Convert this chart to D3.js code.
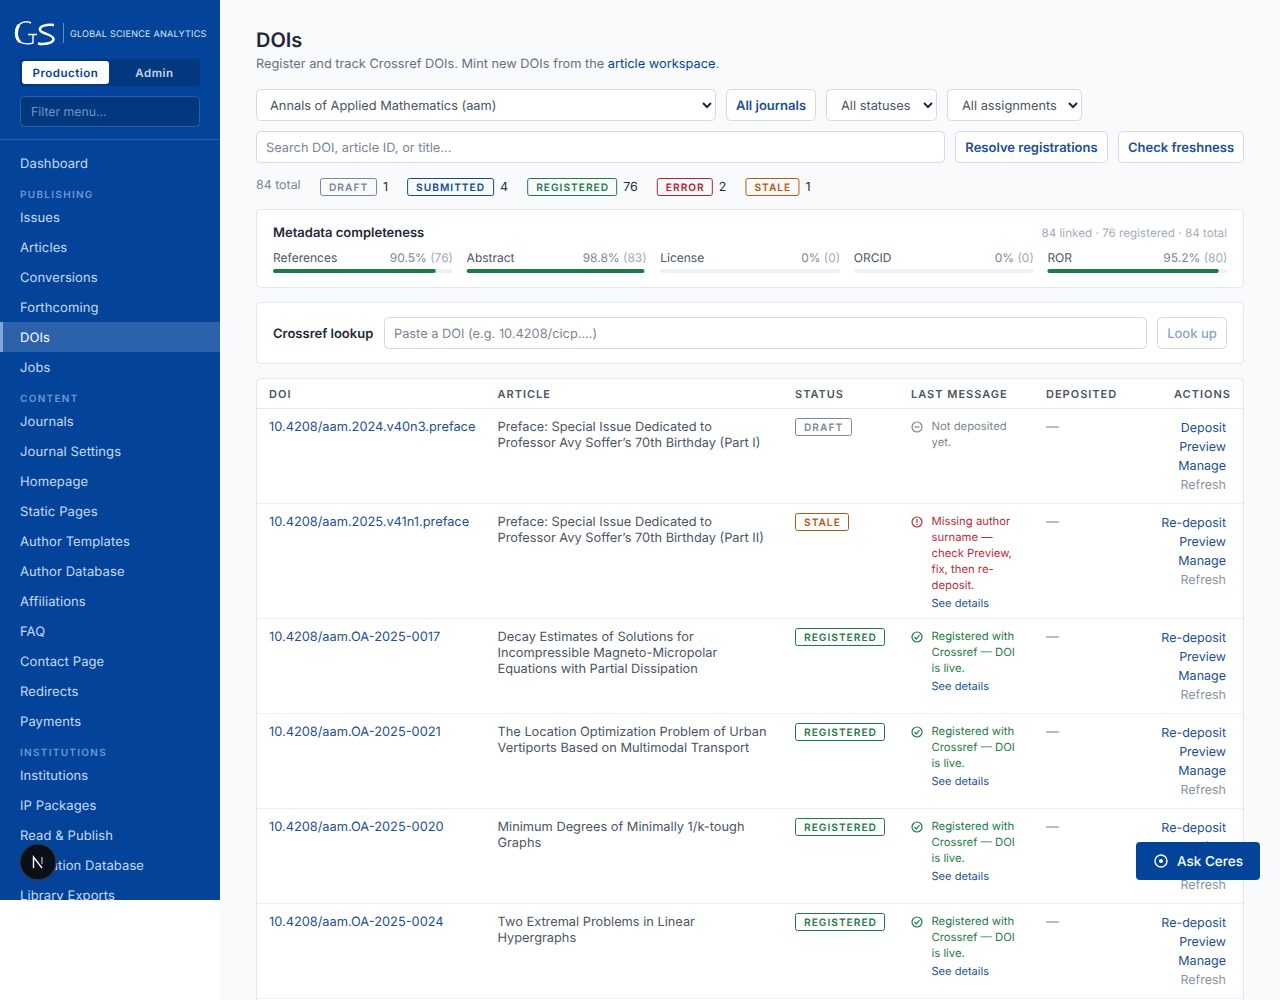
<!DOCTYPE html>
<html>
<head>
<meta charset="utf-8">
<title>DOIs</title>
<script src="https://cdn.jsdelivr.net/npm/d3@7"></script>
<style>
  html, body { margin: 0; padding: 0; background: #fff; overflow: hidden; }
  svg { display: block; font-family: Inter, "Noto Sans", sans-serif; text-rendering: geometricPrecision; }
</style>
</head>
<body>
<div id="app"></div>
<script>
// sidebar
const navTop = ["Dashboard"];
const navPublishing = ["Issues", "Articles", "Conversions", "Forthcoming", "DOIs", "Jobs"];
const navContent = ["Journals", "Journal Settings", "Homepage", "Static Pages", "Author Templates", "Author Database", "Affiliations", "FAQ", "Contact Page", "Redirects", "Payments"];
const navInstitutions = ["Institutions", "IP Packages", "Read & Publish", "Institution Database", "Library Exports"];

// summary counts
const statusNames = ["DRAFT", "SUBMITTED", "REGISTERED", "ERROR", "STALE"];
const statusCounts = [1, 4, 76, 2, 1];

// metadata completeness
const metricNames = ["References", "Abstract", "License", "ORCID", "ROR"];
const metricPercents = [90.5, 98.8, 0, 0, 95.2];
const metricCounts = [76, 83, 0, 0, 80];

// table
const tableHeaders = ["DOI", "ARTICLE", "STATUS", "LAST MESSAGE", "DEPOSITED", "ACTIONS"];
const rowDois = ["10.4208/aam.2024.v40n3.preface", "10.4208/aam.2025.v41n1.preface", "10.4208/aam.OA-2025-0017", "10.4208/aam.OA-2025-0021", "10.4208/aam.OA-2025-0020", "10.4208/aam.OA-2025-0024"];
const rowTitles = [
  ["Preface: Special Issue Dedicated to", "Professor Avy Soffer\u2019s 70th Birthday (Part I)"],
  ["Preface: Special Issue Dedicated to", "Professor Avy Soffer\u2019s 70th Birthday (Part II)"],
  ["Decay Estimates of Solutions for", "Incompressible Magneto-Micropolar", "Equations with Partial Dissipation"],
  ["The Location Optimization Problem of Urban", "Vertiports Based on Multimodal Transport"],
  ["Minimum Degrees of Minimally 1/k-tough", "Graphs"],
  ["Two Extremal Problems in Linear", "Hypergraphs"]
];
const rowStatuses = ["DRAFT", "STALE", "REGISTERED", "REGISTERED", "REGISTERED", "REGISTERED"];
const liveMessage = ["Registered with", "Crossref \u2014 DOI", "is live."];
const rowMessages = [
  ["Not deposited", "yet."],
  ["Missing author", "surname \u2014", "check Preview,", "fix, then re-", "deposit."],
  liveMessage, liveMessage, liveMessage, liveMessage
];
const rowDetails = [false, true, true, true, true, true];
const rowDeposited = ["\u2014", "\u2014", "\u2014", "\u2014", "\u2014", "\u2014"];
const rowFirstAction = ["Deposit", "Re-deposit", "Re-deposit", "Re-deposit", "Re-deposit", "Re-deposit"];

const BLUE = "#03449a", LINK = "#234f8f", INK = "#4b5563";
const statusColors = { DRAFT: "#7b8794", SUBMITTED: "#114a92", REGISTERED: "#1f7a4a", ERROR: "#b4202f", STALE: "#b45a12" };
const msgColors = { DRAFT: "#7b8794", STALE: "#b4303c", REGISTERED: "#1f7a4a" };

const svg = d3.select("#app").append("svg").attr("width", 1280).attr("height", 1000);

const label = (g, x, y, str, opts = {}) =>
  g.append("text")
    .attr("x", x).attr("y", y)
    .attr("font-size", opts.size || 13)
    .attr("font-weight", opts.weight || 400)
    .attr("fill", opts.fill || INK)
    .attr("text-anchor", opts.anchor || "start")
    .attr("letter-spacing", opts.spacing || 0)
    .text(str);

const box = (g, x, y, w, h, opts = {}) =>
  g.append("rect")
    .attr("x", x + 0.5).attr("y", y + 0.5)
    .attr("width", w - 1).attr("height", h - 1)
    .attr("rx", opts.r === undefined ? 4 : opts.r)
    .attr("fill", opts.fill || "#fff")
    .attr("stroke", opts.stroke || "#d5dbe3");

const chevron = (g, x, y) =>
  g.append("path")
    .attr("d", `M${x - 4},${y - 2}L${x},${y + 2}L${x + 4},${y - 2}`)
    .attr("fill", "none").attr("stroke", "#1f2937").attr("stroke-width", 2);

const badge = (g, x, y, name) => {
  const color = statusColors[name];
  const r = box(g, x, y, 40, 18, { r: 2, stroke: color, fill: "none" });
  const t = label(g, x + 9, y + 12.5, name, { size: 10.2, weight: 600, fill: color, spacing: 1 });
  const w = Math.round(t.node().getComputedTextLength() + 17.5);
  r.attr("width", w - 1);
  return w;
};

// ---- page background
svg.append("rect").attr("x", 220).attr("width", 1060).attr("height", 1000).attr("fill", "#f8fafc");

// ---- sidebar
const side = svg.append("g");
const clip = svg.append("clipPath").attr("id", "sideClip");
clip.append("rect").attr("width", 220).attr("height", 900);
side.attr("clip-path", "url(#sideClip)");
side.append("rect").attr("width", 220).attr("height", 900).attr("fill", BLUE);

// logo
const logo = side.append("g").attr("fill", "none").attr("stroke", "#fff");
logo.append("path").attr("stroke-width", 1.4)
  .attr("d", "M31,23C24,19.5 16,24 15.5,33C15.5,41 22,45 31,43.5L33,43V35M28,34.5L37,34.5");
logo.append("path").attr("stroke-width", 3)
  .attr("d", "M19,25C15.5,29 15.5,38 20,42");
logo.append("path").attr("stroke-width", 2.6)
  .attr("d", "M54,25C47,24 39,26 40,30C41,34 53,34 53.5,39C53.5,43 45,45 38,43.5");
side.append("rect").attr("x", 63).attr("y", 23).attr("width", 1).attr("height", 20).attr("fill", "#5f8ac4");
label(side, 70, 36.5, "GLOBAL SCIENCE ANALYTICS", { size: 9.1, fill: "#dbe6f6", spacing: 0.2 });

// environment toggle
side.append("rect").attr("x", 20).attr("y", 59).attr("width", 180).attr("height", 27).attr("rx", 3).attr("fill", "#03387f");
side.append("rect").attr("x", 22).attr("y", 61).attr("width", 87).attr("height", 23).attr("rx", 3).attr("fill", "#fff");
label(side, 65.5, 77, "Production", { size: 11.5, weight: 600, fill: BLUE, anchor: "middle", spacing: 0.5 });
label(side, 154.5, 77, "Admin", { size: 11.5, weight: 600, fill: "#c3d5f0", anchor: "middle", spacing: 0.5 });

// filter
box(side, 20, 96, 180, 31, { fill: "#03387f", stroke: "#2a5ea8" });
label(side, 31, 116, "Filter menu...", { size: 12.3, fill: "#6f94c9" });
side.append("rect").attr("y", 139).attr("width", 220).attr("height", 1).attr("fill", "#2a5ea8");

// nav items, each section laid out after the one above it
side.append("rect").attr("y", 322).attr("width", 220).attr("height", 30).attr("fill", "#2b62ab");
side.append("rect").attr("y", 322).attr("width", 3).attr("height", 30).attr("fill", "#7fa6dc");
let navY = 163;
const navSections = [[null, navTop], ["PUBLISHING", navPublishing], ["CONTENT", navContent], ["INSTITUTIONS", navInstitutions]];
navSections.forEach(([title, items]) => {
  if (title) {
    label(side, 20, navY + 4, title, { size: 10, weight: 600, fill: "#6f98d2", spacing: 1.3 });
    navY += 23;
  }
  items.forEach((name, i) => {
    label(side, 20, navY + 5, name, { size: 13, fill: name === "DOIs" ? "#fff" : "#c9daf3", spacing: 0.1 });
    navY += i === items.length - 1 ? 1 : 30;
  });
  navY += 30;
});

// ---- heading
const main = svg.append("g");
label(main, 256, 47, "DOIs", { size: 20, weight: 600, fill: "#1f2937" });
const sub = label(main, 256, 68, "", { size: 12.8, fill: "#667180" });
sub.append("tspan").text("Register and track Crossref DOIs. Mint new DOIs from the ");
sub.append("tspan").attr("fill", BLUE).text("article workspace");
sub.append("tspan").text(".");

// ---- filters
box(main, 256, 89, 460, 32);
label(main, 270, 110, "Annals of Applied Mathematics (aam)", { size: 12.8 });
chevron(main, 707, 105);
box(main, 726, 89, 90, 32);
label(main, 771, 110, "All journals", { size: 13, weight: 600, fill: LINK, anchor: "middle" });
box(main, 826, 89, 111, 32);
label(main, 841, 110, "All statuses", { size: 12.8 });
chevron(main, 928, 105);
box(main, 947, 89, 135, 32);
label(main, 962, 110, "All assignments", { size: 12.8 });
chevron(main, 1073, 105);

box(main, 256, 131, 689, 32);
label(main, 266, 152, "Search DOI, article ID, or title...", { size: 12.8, fill: "#7b8594" });
box(main, 955, 131, 153, 32);
label(main, 1031.5, 152, "Resolve registrations", { size: 13, weight: 600, fill: LINK, anchor: "middle" });
box(main, 1118, 131, 126, 32);
label(main, 1181, 152, "Check freshness", { size: 13, weight: 600, fill: LINK, anchor: "middle" });

// ---- status summary
label(main, 256, 189, "84 total", { size: 12.4, fill: "#7b8794" });
let sumX = 320;
statusNames.forEach((name, i) => {
  const w = badge(main, sumX, 178, name);
  sumX += w;
  const c = label(main, sumX + 6, 191, statusCounts[i], { size: 12.5, fill: "#1f2937" });
  sumX += 6 + c.node().getComputedTextLength() + 19;
});

// ---- metadata completeness
box(main, 256, 209, 988, 79, { stroke: "#e2e8f0" });
label(main, 273, 237, "Metadata completeness", { size: 13, weight: 600, fill: "#1f2937" });
label(main, 1227, 237, "84 linked \u00b7 76 registered \u00b7 84 total", { size: 11.7, fill: "#a3acb8", anchor: "end" });

const metricX = d3.scaleBand().domain(metricNames).range([273, 1227 + 14]).paddingInner(0);
const metricW = d3.scaleLinear().domain([0, 100]).range([0, 180]);
const metrics = main.selectAll("g.metric").data(metricNames).join("g")
  .attr("class", "metric")
  .attr("transform", d => `translate(${metricX(d)},0)`);
metrics.append("text").attr("y", 262).attr("font-size", 12).attr("fill", INK).text(d => d);
metrics.each(function (d, i) {
  const g = d3.select(this);
  const t = label(g, 180, 262, "", { size: 12, fill: "#7b8794", anchor: "end" });
  t.append("tspan").text(`${metricPercents[i]}% `);
  t.append("tspan").attr("fill", "#a3acb8").text(`(${metricCounts[i]})`);
  g.append("rect").attr("y", 269).attr("width", metricW(100)).attr("height", 4).attr("rx", 2).attr("fill", "#eef1f5");
  g.append("rect").attr("y", 269).attr("width", metricW(metricPercents[i])).attr("height", 4).attr("rx", 2).attr("fill", "#1f7a4a");
});

// ---- crossref lookup
box(main, 256, 302, 988, 62, { stroke: "#e2e8f0" });
label(main, 273, 338, "Crossref lookup", { size: 13, weight: 600, fill: "#1f2937" });
box(main, 384, 317, 763, 32);
label(main, 394, 338, "Paste a DOI (e.g. 10.4208/cicp....)", { size: 12.8, fill: "#7b8594" });
box(main, 1157, 317, 70, 32, { stroke: "#d5dbe3" });
label(main, 1192, 338, "Look up", { size: 13, weight: 500, fill: "#8ba3c4", anchor: "middle" });

// ---- table
main.append("rect").attr("x", 256.5).attr("y", 378.5).attr("width", 987).attr("height", 700)
  .attr("rx", 4).attr("fill", "#fff").attr("stroke", "#e2e8f0");
const headX = [269, 497.5, 795, 911, 1046, 1231];
tableHeaders.forEach((h, i) => {
  label(main, headX[i], 398, h, { size: 11, weight: 600, fill: "#4b5563", spacing: 1, anchor: i === 5 ? "end" : "start" });
});
main.append("rect").attr("x", 257).attr("y", 408).attr("width", 986).attr("height", 1).attr("fill", "#e5e9ef");

const msgIcon = (g, x, y, status) => {
  const c = msgColors[status];
  g.append("circle").attr("cx", x).attr("cy", y).attr("r", 5).attr("fill", "none").attr("stroke", c).attr("stroke-width", 1.2);
  const p = g.append("path").attr("fill", "none").attr("stroke", c).attr("stroke-width", 1.2);
  if (status === "DRAFT") p.attr("d", `M${x - 2.5},${y}H${x + 2.5}`);
  if (status === "STALE") p.attr("d", `M${x},${y - 3}V${y + 0.7}M${x},${y + 2}V${y + 3}`);
  if (status === "REGISTERED") p.attr("d", `M${x - 2.5},${y}L${x - 0.7},${y + 2}L${x + 2.5},${y - 2}`);
};

let rowY = 409;
rowDois.forEach((doi, i) => {
  const g = main.append("g").attr("transform", `translate(0,${rowY})`);
  const lines = rowMessages[i];
  const h = Math.max(95, lines.length * 16 + (rowDetails[i] ? 35 : 19));
  label(g, 269, 22, doi, { size: 12.8, fill: LINK });
  rowTitles[i].forEach((line, j) => label(g, 497.5, 22 + j * 16, line, { size: 12.8, fill: INK }));
  badge(g, 795, 9, rowStatuses[i]);
  msgIcon(g, 917, 18, rowStatuses[i]);
  const mc = msgColors[rowStatuses[i]];
  lines.forEach((line, j) => label(g, 931.5, 20.8 + j * 16, line, { size: 11.3, fill: mc }));
  if (rowDetails[i]) label(g, 931.5, 20.8 + lines.length * 16 + 2, "See details", { size: 11.1, fill: LINK });
  label(g, 1046, 22, rowDeposited[i], { size: 13, fill: "#7b8794" });
  [rowFirstAction[i], "Preview", "Manage", "Refresh"].forEach((a, j) =>
    label(g, 1226, 23 + j * 19, a, { size: 12.5, fill: j === 3 ? "#8a93a0" : LINK, anchor: "end" }));
  rowY += h;
  main.append("rect").attr("x", 257).attr("y", rowY - 1).attr("width", 986).attr("height", 1).attr("fill", "#eceff3");
});

// ---- floating bits
const ask = svg.append("g");
ask.append("rect").attr("x", 1136).attr("y", 842).attr("width", 124).attr("height", 38).attr("rx", 4).attr("fill", BLUE);
ask.append("circle").attr("cx", 1161).attr("cy", 861).attr("r", 6).attr("fill", "none").attr("stroke", "#fff").attr("stroke-width", 1.4);
ask.append("circle").attr("cx", 1161).attr("cy", 861).attr("r", 2).attr("fill", "#fff");
label(ask, 1177, 866, "Ask Ceres", { size: 13.5, weight: 500, fill: "#fff" });

// dev tools button, the N is an icon here
const dev = svg.append("g");
dev.append("circle").attr("cx", 38).attr("cy", 862).attr("r", 18).attr("fill", "#0b0f1a").attr("stroke", "#2b3650").attr("stroke-width", 1.5);
dev.append("path").attr("fill", "none").attr("stroke", "#fff").attr("stroke-width", 1.4)
  .attr("d", "M33.5,868V857L42,868");
dev.append("path").attr("fill", "none").attr("stroke", "#9aa3b2").attr("stroke-width", 1.4)
  .attr("d", "M42,857V864");
</script>
</body>
</html>
